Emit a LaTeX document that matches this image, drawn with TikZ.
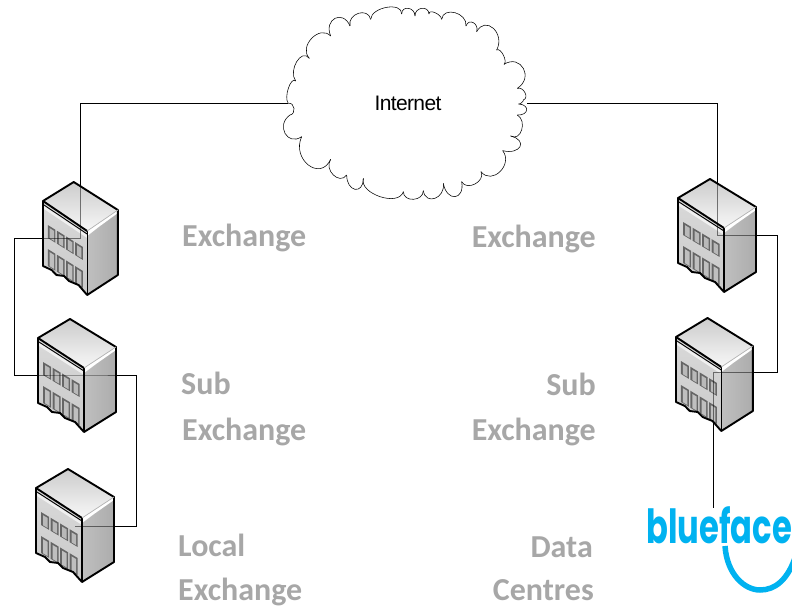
\documentclass[tikz,border=0pt]{standalone}
\usepackage{fontspec}
\setmainfont{Carlito}
\newfontfamily\netfont[LetterSpace=-3]{Liberation Sans}
\newfontfamily\logofont{Poppins}
\usetikzlibrary{calc}
\definecolor{lbl}{RGB}{167,167,167}
\definecolor{logoblue}{RGB}{0,178,240}
\newcommand{\wiring}[1]{%
 \draw[wire,#1] (cloudW) -| (ex1) -- (turnA) |- (sub1) -- (turnB) |- (loc1);
 \draw[wire,#1] (cloudE) -| (ex2) -- (turnC) |- (sub2) -- (logoTop);
}
\tikzset{
 x=1pt,y=-1pt,
 tag/.style={font=\fontsize{32}{34}\selectfont\bfseries,text=lbl,inner sep=0pt},
 wire/.style={draw=black,line width=0.7pt},
 puff/.style={draw=black,line width=0.55pt},
 edgeb/.style={draw=black,line width=1.9pt,line join=round},
 building/.pic={
  \shade[left color=gray!50,middle color=gray!8,right color=gray!65,draw=none] (46,30)--(78,9)--(78,74)--(46,94)--cycle;
  \fill[white] (46,30)--(78,9)--(78,12)--(58,26)--(46,35)--cycle;
  \shade[top color=gray!40,bottom color=gray!6,draw=none] (0,0)--(32,-19)--(78,9)--(46,30)--cycle;
  \shade[top color=gray!30,bottom color=gray!42,draw=none] (0,0)--(46,30)--(46,94)--(37,84)--(27,80)--(22,75)--(14,74)--(9,69)--(0,65)--cycle;
  \fill[gray!12] (1,5)--(46,34)--(46,37)--(1,8)--cycle;
  \foreach \a in {5,14.5,24,33.5}{
   \fill[gray!80!black] (\a,{21+.6*\a})--({\a+8},{21+.6*(\a+8)})--({\a+8},{34+.6*(\a+8)})--(\a,{34+.6*\a})--cycle;
   \fill[gray!55] ({\a+2},{23+.6*(\a+2)})--({\a+6.5},{23+.6*(\a+6.5)})--({\a+6.5},{33+.6*(\a+6.5)})--({\a+2},{33+.6*(\a+2)})--cycle;
   \fill[gray!80!black] (\a,{45+.6*\a})--({\a+8},{45+.6*(\a+8)})--({\a+8},{62+.6*(\a+8)})--(\a,{62+.6*\a})--cycle;
   \fill[gray!50] ({\a+2},{47+.6*(\a+2)})--({\a+6.5},{47+.6*(\a+6.5)})--({\a+6.5},{61+.6*(\a+6.5)})--({\a+2},{61+.6*(\a+2)})--cycle;
  }
  \draw[edgeb] (0,0)--(32,-19)--(78,9)--(78,74)--(46,94)--(37,84)--(27,80)--(22,75)--(14,74)--(9,69)--(0,65)--cycle;
  \draw[edgeb] (0,0)--(46,30);
  \draw[edgeb,line width=1.3pt] (46,30)--(46,94);
  \draw[black,line width=.9pt] (1,4)--(46,33);
  \draw[gray!60,line width=.7pt] (46,30)--(78,9);
 }
}
\begin{document}
\begin{tikzpicture}
\useasboundingbox (0,0) rectangle (792,607);
% cloud
\begin{scope}[shift={(280,0)},scale=1/3]
\foreach \ax/\ay/\vx/\vy/\bx/\by in {
 25/310/25/265/47/243, 47/243/50/185/88/175, 88/175/95/115/152/108,
 152/108/165/55/210/78, 210/78/235/40/272/58, 272/58/320/22/365/42,
 365/42/385/25/405/48, 405/48/425/25/447/42, 447/42/465/38/485/58,
 485/58/525/38/558/78, 558/78/580/68/590/95, 590/95/640/85/650/150,
 650/150/670/165/672/193, 672/193/730/205/712/265, 712/265/735/278/730/300,
 730/300/725/308/716/312, 716/312/740/330/712/345, 712/345/725/390/692/408,
 692/408/720/440/668/452, 668/452/660/515/603/515, 603/515/585/552/545/545,
 545/545/525/590/490/550, 490/550/465/595/430/572, 430/572/400/598/370/575,
 370/575/300/590/250/535, 250/535/225/568/200/525, 200/525/160/525/152/478,
 152/478/85/495/65/410, 65/410/15/400/30/345, 30/345/42/325/25/310}{
 \draw[puff] (\ax,\ay) .. controls ($0.3333*(\ax,\ay)+1.3333*(\vx,\vy)-0.6667*(\bx,\by)$) and ($0.3333*(\bx,\by)+1.3333*(\vx,\vy)-0.6667*(\ax,\ay)$) .. (\bx,\by);
}
\end{scope}
\node[font=\netfont\fontsize{21}{23}\selectfont,inner sep=0pt] (internet) at (408,103) {Internet};
\coordinate (cloudW) at (288,103);
\coordinate (cloudE) at (527,103);
\coordinate (ex1) at (80,238);
\coordinate (sub1) at (80,375);
\coordinate (loc1) at (75,526.5);
\coordinate (ex2) at (717,235);
\coordinate (sub2) at (713.5,372);
\coordinate (logoTop) at (713.5,508);
\coordinate (turnA) at (14.5,238);
\coordinate (turnB) at (136.5,375);
\coordinate (turnC) at (777,235);
% connectors under the buildings
\wiring{}
% buildings
\pic[xscale=.96] at (43,201) {building};
\pic at (38,338) {building};
\pic at (36,488) {building};
\pic at (678,198) {building};
\pic[xscale=.985] at (676,337) {building};
% connectors showing through the buildings
\wiring{opacity=.5}
% labels
\node[tag,anchor=base west] (t1) at (182,246) {Exchange};
\node[tag,anchor=base west] (t2) at (181,394) {Sub};
\node[tag,anchor=base west] (t3) at (182,440) {Exchange};
\node[tag,anchor=base west] (t4) at (178,556) {Local};
\node[tag,anchor=base west] (t5) at (178,600.5) {Exchange};
\node[tag,anchor=base east] (t6) at (596,247) {Exchange};
\node[tag,anchor=base east] (t7) at (596,395) {Sub};
\node[tag,anchor=base east] (t8) at (596,440) {Exchange};
\node[tag,anchor=base east] (t9) at (593,557) {Data};
\node[tag,anchor=base east] (t10) at (594,600.5) {Centres};
% logo
\begin{scope}
\clip (0,0) rectangle (792,607);
\draw[logoblue,line width=5.5pt] (725,546) .. controls (727,575) and (745,590) .. (760,590) .. controls (775,590) and (788,580) .. (796,555);
\end{scope}
\node[font=\logofont\bfseries\fontsize{47}{48}\selectfont,text=logoblue,anchor=base west,inner sep=0pt] (logo) at (646,543) {\scalebox{.685}[1]{blueface}};
\end{tikzpicture}
\end{document}
